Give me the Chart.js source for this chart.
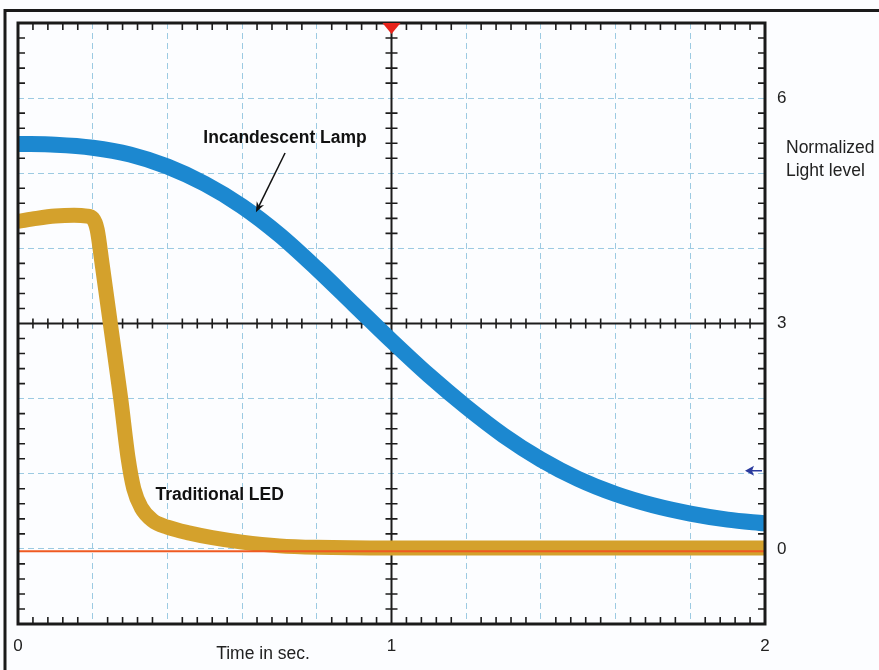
<!DOCTYPE html>
<html>
<head>
<meta charset="utf-8">
<script src="https://cdn.jsdelivr.net/npm/chart.js@4.4.1/dist/chart.umd.min.js"></script>
<style>
  html, body { margin: 0; padding: 0; background: #fcfdff; }
  canvas { display: block; }
</style>
</head>
<body>
<canvas id="scope" width="879" height="670"></canvas>
<script>
// time (s) and normalized light level
const lampTime  = [0, 0.1, 0.2, 0.3, 0.4, 0.5, 0.6, 0.7, 0.8, 0.9, 1.0, 1.1, 1.2, 1.3, 1.4, 1.5, 1.6, 1.7, 1.8, 1.9, 2.0];
const lampLevel = [5.39, 5.38, 5.34, 5.25, 5.09, 4.86, 4.56, 4.18, 3.73, 3.25, 2.77, 2.31, 1.89, 1.51, 1.19, 0.93, 0.73, 0.58, 0.47, 0.39, 0.34];

const ledTime  = [0, 0.05, 0.1, 0.15, 0.185, 0.2, 0.212, 0.225, 0.25, 0.275, 0.295, 0.31, 0.33, 0.36, 0.40, 0.46, 0.52, 0.6, 0.7, 0.8, 1.0, 1.5, 2.0];
const ledLevel = [4.36, 4.40, 4.43, 4.44, 4.43, 4.40, 4.25, 3.8, 2.9, 2.0, 1.2, 0.8, 0.55, 0.38, 0.29, 0.21, 0.15, 0.09, 0.04, 0.02, 0.01, 0.01, 0.01];

const baseTime  = [0, 2];
const baseLevel = [-0.03, -0.03];

const xTickLabels = [0, 1, 2];
const yTickLabels = [0, 3, 6];

// callouts in data units
const lampNote = { text: 'Incandescent Lamp', x: 0.715, y: 5.47, from: [0.715, 5.27], to: [0.637, 4.48] };
const ledNote  = { text: 'Traditional LED', x: 0.54, y: 0.71 };
const markerLevel = 1.04;

const pts = (xs, ys) => xs.map((x, i) => ({ x, y: ys[i] }));
const near = (v, list) => list.some(t => Math.abs(v - t) < 1e-6);
const FONT = '"Liberation Sans", Arial, sans-serif';

const scopeDecor = {
    id: 'scopeDecor',
    beforeDatasetsDraw(chart) {
        const { ctx, chartArea: a, scales: { x, y } } = chart;
        ctx.save();
        ctx.strokeStyle = '#1c1c1c';
        // centre cross
        ctx.lineWidth = 2;
        const cx = x.getPixelForValue(1), cy = y.getPixelForValue(3);
        ctx.beginPath();
        ctx.moveTo(a.left, cy); ctx.lineTo(a.right, cy);
        ctx.moveTo(cx, a.top); ctx.lineTo(cx, a.bottom);
        ctx.stroke();
        // minor ticks, 5 per division
        ctx.lineWidth = 1.6;
        ctx.beginPath();
        for (let i = 1; i < 50; i++) {
            if (i % 5 === 0) continue;
            const px = x.getPixelForValue(i * 0.04);
            ctx.moveTo(px, a.top); ctx.lineTo(px, a.top + 7);
            ctx.moveTo(px, a.bottom); ctx.lineTo(px, a.bottom - 7);
            ctx.moveTo(px, cy - 5); ctx.lineTo(px, cy + 5);
        }
        for (let i = 1; i < 40; i++) {
            if (i % 5 === 0) continue;
            const py = y.getPixelForValue(-1 + i * 0.2);
            ctx.moveTo(a.left, py); ctx.lineTo(a.left + 7, py);
            ctx.moveTo(a.right, py); ctx.lineTo(a.right - 7, py);
            ctx.moveTo(cx - 6, py); ctx.lineTo(cx + 6, py);
        }
        ctx.stroke();
        ctx.restore();
    },
    afterDatasetsDraw(chart) {
        const { ctx, chartArea: a, scales: { x, y } } = chart;
        ctx.save();
        // frame
        ctx.strokeStyle = '#1a1a1a';
        ctx.lineWidth = 3;
        ctx.strokeRect(a.left, a.top, a.right - a.left, a.bottom - a.top);

        // outer picture border (top and left only)
        ctx.beginPath();
        ctx.moveTo(5, 670); ctx.lineTo(5, 10.5); ctx.lineTo(879, 10.5);
        ctx.stroke();

        // trigger marker
        const cx = x.getPixelForValue(1);
        ctx.fillStyle = '#e8231b';
        ctx.beginPath();
        ctx.moveTo(cx - 9, a.top); ctx.lineTo(cx + 9, a.top); ctx.lineTo(cx, a.top + 11);
        ctx.closePath(); ctx.fill();

        // level marker arrow on right
        const my = y.getPixelForValue(markerLevel);
        ctx.strokeStyle = '#2a3a9e'; ctx.fillStyle = '#2a3a9e';
        ctx.lineWidth = 1.5;
        ctx.beginPath(); ctx.moveTo(a.right - 18, my); ctx.lineTo(a.right - 3, my); ctx.stroke();
        ctx.beginPath();
        ctx.moveTo(a.right - 20, my); ctx.lineTo(a.right - 11, my - 5); ctx.lineTo(a.right - 13, my); ctx.lineTo(a.right - 11, my + 5);
        ctx.closePath(); ctx.fill();

        // callout texts
        ctx.fillStyle = '#111';
        ctx.font = 'bold 17.5px ' + FONT;
        ctx.textAlign = 'center'; ctx.textBaseline = 'middle';
        ctx.fillText(lampNote.text, x.getPixelForValue(lampNote.x), y.getPixelForValue(lampNote.y));
        ctx.fillText(ledNote.text, x.getPixelForValue(ledNote.x), y.getPixelForValue(ledNote.y));

        // callout arrow
        const x0 = x.getPixelForValue(lampNote.from[0]), y0 = y.getPixelForValue(lampNote.from[1]);
        const x1 = x.getPixelForValue(lampNote.to[0]), y1 = y.getPixelForValue(lampNote.to[1]);
        const ang = Math.atan2(y1 - y0, x1 - x0);
        ctx.strokeStyle = '#111'; ctx.fillStyle = '#111'; ctx.lineWidth = 1.5;
        ctx.beginPath(); ctx.moveTo(x0, y0); ctx.lineTo(x1 - 6 * Math.cos(ang), y1 - 6 * Math.sin(ang)); ctx.stroke();
        ctx.beginPath();
        ctx.moveTo(x1, y1);
        ctx.lineTo(x1 - 11 * Math.cos(ang - 0.38), y1 - 11 * Math.sin(ang - 0.38));
        ctx.lineTo(x1 - 7 * Math.cos(ang), y1 - 7 * Math.sin(ang));
        ctx.lineTo(x1 - 11 * Math.cos(ang + 0.38), y1 - 11 * Math.sin(ang + 0.38));
        ctx.closePath(); ctx.fill();

        // axis titles
        ctx.fillStyle = '#222';
        ctx.font = '17.5px ' + FONT;
        ctx.textAlign = 'center';
        ctx.fillText('Time in sec.', 263, 654);
        ctx.textAlign = 'left';
        ctx.fillText('Normalized', 786, 148);
        ctx.fillText('Light level', 786, 171);
        ctx.restore();
    }
};

new Chart(document.getElementById('scope'), {
    type: 'line',
    data: {
        datasets: [
            {
                label: 'Baseline',
                data: pts(baseTime, baseLevel),
                borderColor: '#ef5a22',
                borderWidth: 2,
                pointRadius: 0,
                order: 0
            },
            {
                label: 'Traditional LED',
                data: pts(ledTime, ledLevel),
                borderColor: '#d4a12c',
                borderWidth: 15,
                pointRadius: 0,
                cubicInterpolationMode: 'monotone',
                borderJoinStyle: 'round',
                order: 1
            },
            {
                label: 'Incandescent Lamp',
                data: pts(lampTime, lampLevel),
                borderColor: '#1c88d0',
                borderWidth: 16,
                pointRadius: 0,
                cubicInterpolationMode: 'monotone',
                borderJoinStyle: 'round',
                order: 2
            }
        ]
    },
    options: {
        responsive: false,
        animation: false,
        devicePixelRatio: 1,
        layout: { padding: { left: 18, top: 23, right: 0, bottom: 0 } },
        plugins: { legend: { display: false }, tooltip: { enabled: false } },
        scales: {
            x: {
                type: 'linear',
                min: 0, max: 2,
                afterFit: s => { s.height = 46; },
                grid: { color: '#9ccae2', lineWidth: 1, drawTicks: false },
                border: { display: false, dash: [6, 4] },
                ticks: {
                    stepSize: 0.2, autoSkip: false, maxRotation: 0, padding: 12,
                    color: '#222', font: { family: FONT, size: 17 },
                    callback: v => near(v, xTickLabels) ? String(Math.round(v)) : ''
                }
            },
            y: {
                type: 'linear',
                position: 'right',
                min: -1, max: 7,
                afterFit: s => { s.width = 114; },
                grid: { color: '#9ccae2', lineWidth: 1, drawTicks: false },
                border: { display: false, dash: [6, 4] },
                ticks: {
                    stepSize: 1, autoSkip: false, padding: 12,
                    color: '#222', font: { family: FONT, size: 17 },
                    callback: v => near(v, yTickLabels) ? String(Math.round(v)) : ''
                }
            }
        }
    },
    plugins: [scopeDecor]
});
</script>
</body>
</html>
